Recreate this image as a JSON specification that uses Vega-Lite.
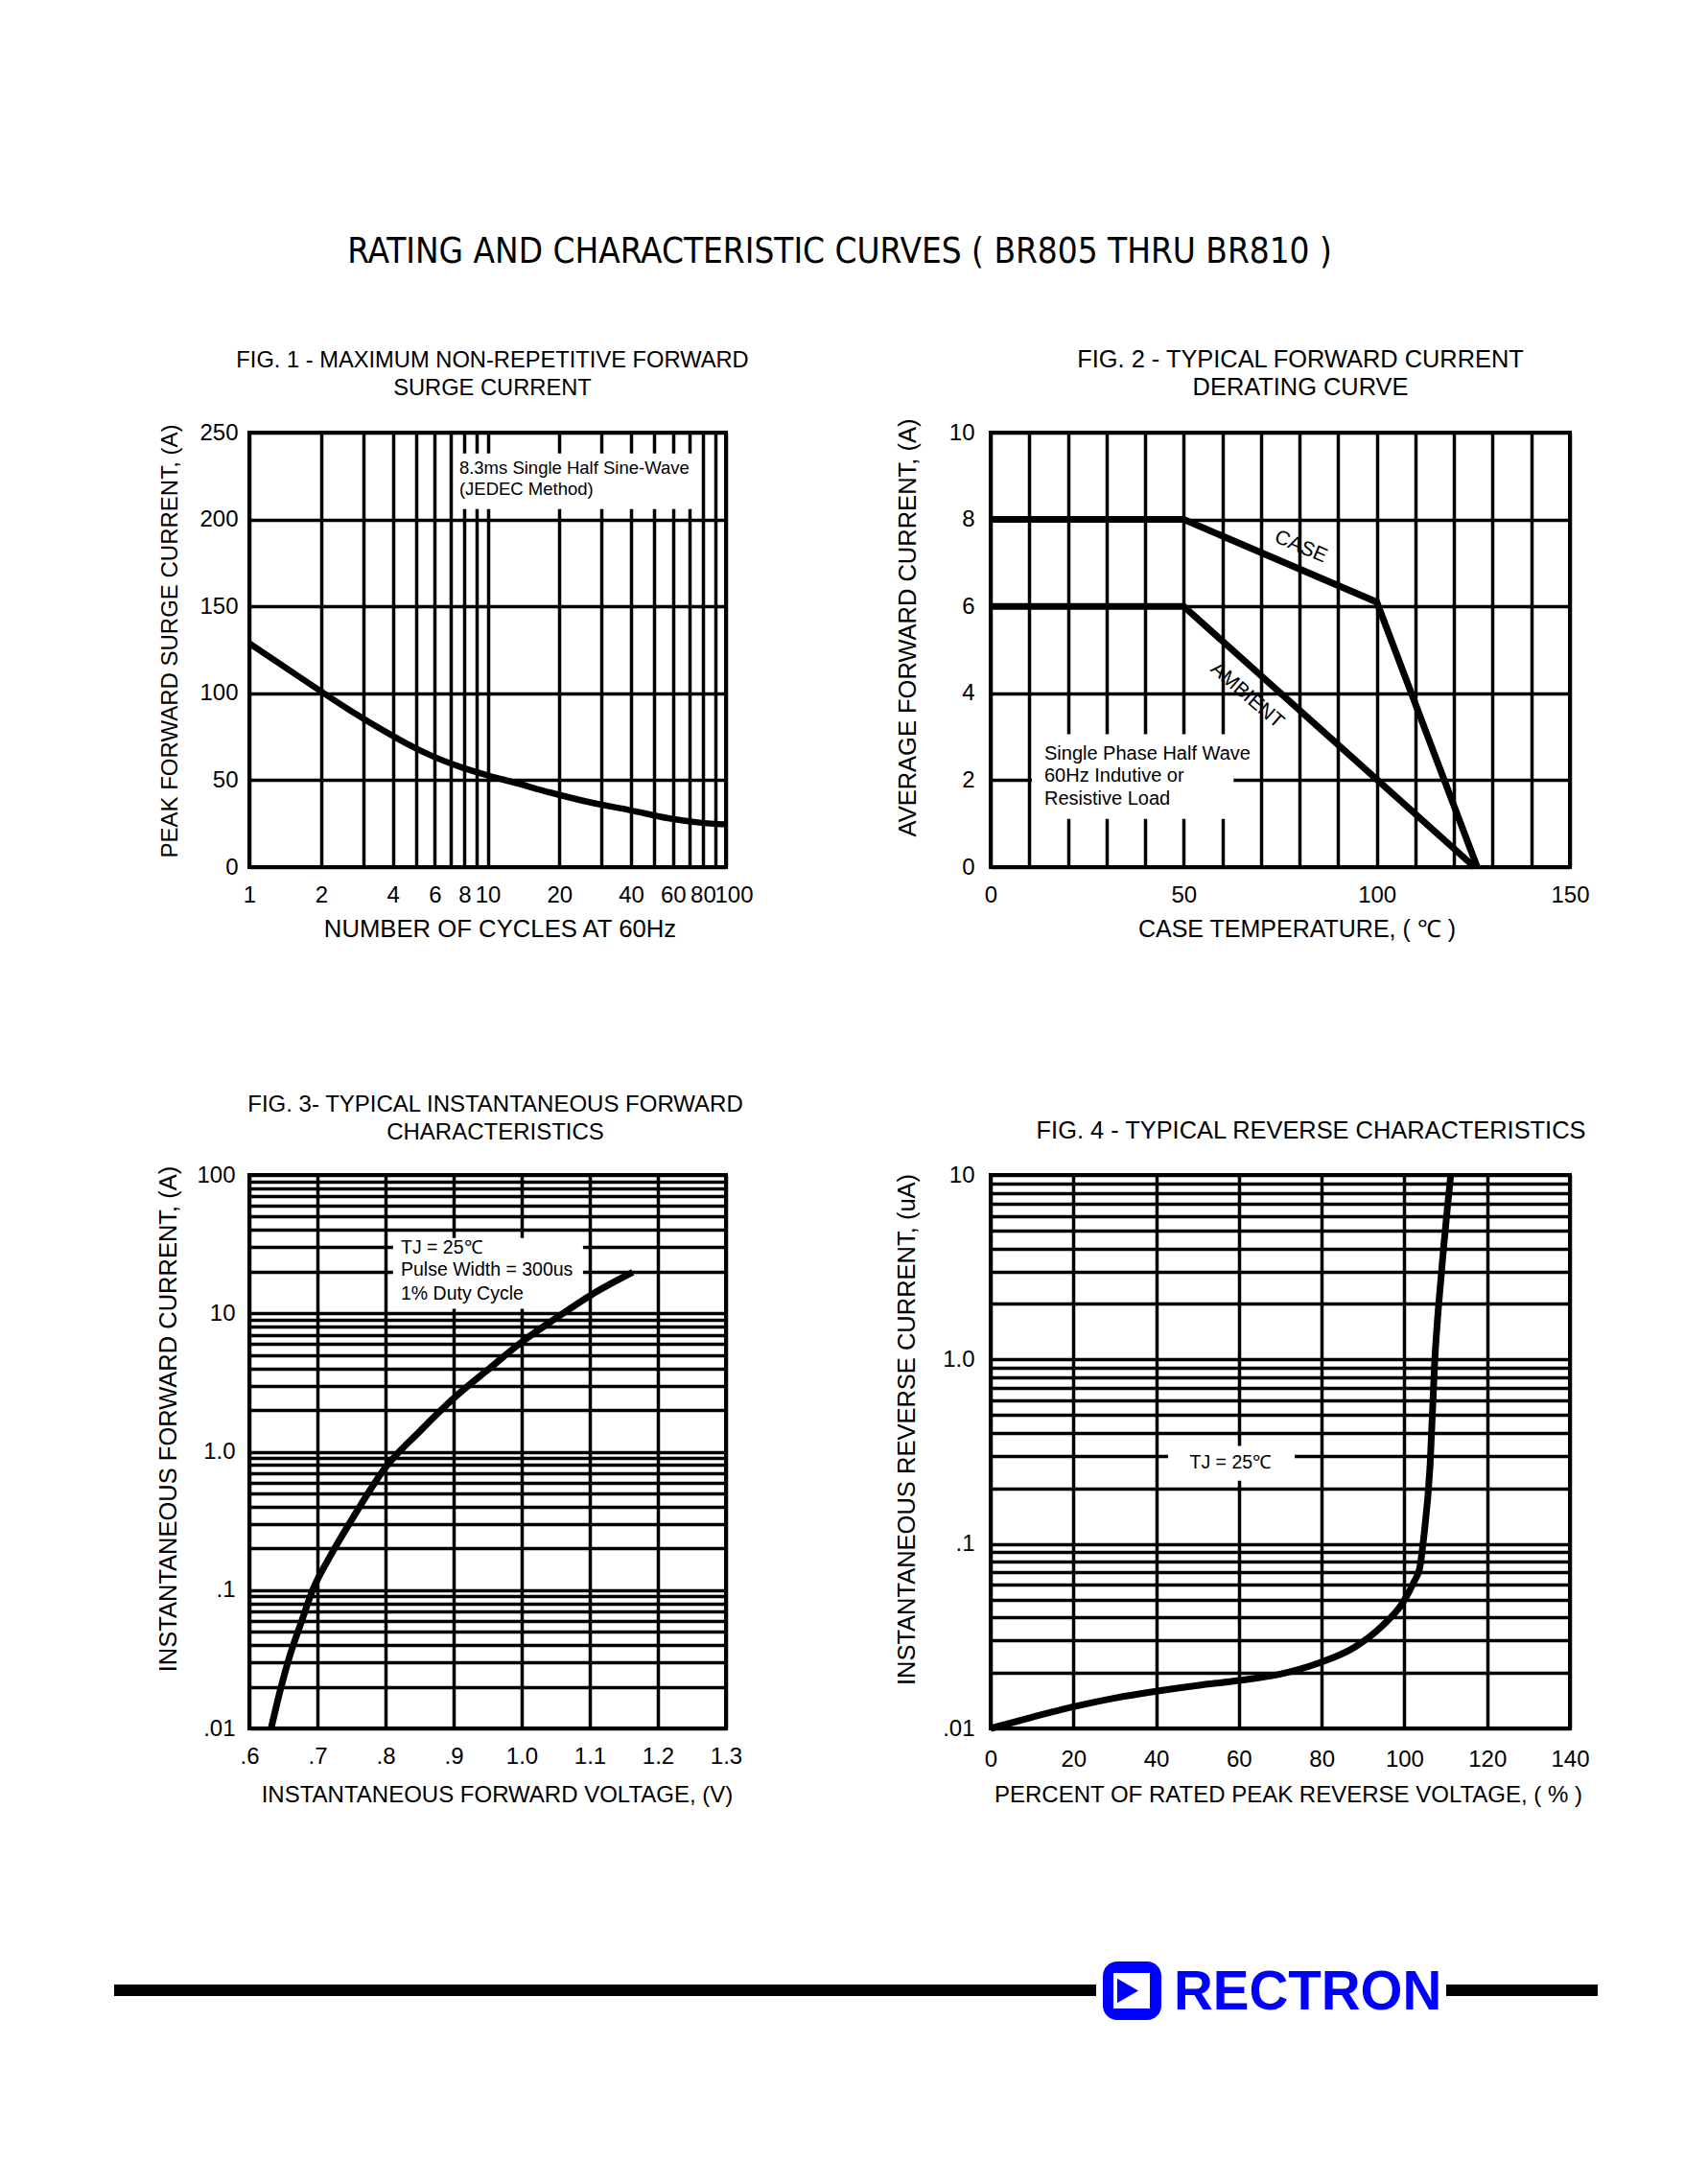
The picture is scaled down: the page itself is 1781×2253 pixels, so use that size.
{
  "$schema": "https://vega.github.io/schema/vega-lite/v6.json",
  "background": "white",
  "padding": {"left": 119, "top": 244, "right": 0, "bottom": 0},
  "title": {
    "text": "RATING AND CHARACTERISTIC CURVES ( BR805 THRU BR810 )",
    "font": "Liberation Sans Narrow, DejaVu Sans Condensed, Liberation Sans",
    "fontSize": 36.6, "fontWeight": "normal", "color": "black",
    "anchor": "middle", "frame": "bounds", "baseline": "alphabetic",
    "offset": 51, "dx": -17
  },
  "columns": 2,
  "spacing": {"row": 321, "column": 276},
  "bounds": "flush",
  "align": "each",
  "concat": [
    {
      "width": 497, "height": 453,
      "view": {"stroke": "black", "strokeWidth": 4},
      "title": {"text": ["FIG. 1 - MAXIMUM NON-REPETITIVE FORWARD", "SURGE CURRENT"], "dx": 5, "fontSize": 23.7, "offset": 22},
      "encoding": {
        "x": {"field": "x", "type": "quantitative",
          "scale": {"type": "log", "domain": [1, 100], "nice": false},
          "axis": {"title": "NUMBER OF CYCLES AT 60Hz",
            "values": [1,2,3,4,5,6,7,8,9,10,20,30,40,50,60,70,80,90,100],
            "labelExpr": "indexof([1,2,4,6,8,10,20,40,60,80,100], datum.value) >= 0 ? format(datum.value, 'd') : ''",
            "labelOffset": {"condition": {"test": "datum.value === 100", "value": 8}, "value": 0},
            "labelPadding": 17, "titlePadding": 11, "titleFontSize": 25.7, "titleX": 261}},
        "y": {"field": "y", "type": "quantitative",
          "scale": {"domain": [0, 250], "nice": false},
          "axis": {"title": "PEAK FORWARD SURGE CURRENT, (A)", "values": [0,50,100,150,200,250],
            "labelPadding": 12, "titlePadding": 18, "titleFontSize": 24, "titleY": 217}}
      },
      "layer": [
        {"data": {"values": [{"x": 7.3, "x2": 74, "y": 206, "y2": 238}]},
         "mark": {"type": "rect", "color": "white"},
         "encoding": {"x2": {"field": "x2"}, "y2": {"field": "y2"}}},
        {"data": {"values": [
          {"x": 1, "y": 128.7}, {"x": 1.79, "y": 105.5}, {"x": 2.63, "y": 90.4}, {"x": 3.88, "y": 76.5},
          {"x": 4.79, "y": 69.6}, {"x": 5.72, "y": 64.5}, {"x": 7.54, "y": 58}, {"x": 9.85, "y": 53},
          {"x": 12.9, "y": 48.7}, {"x": 18.3, "y": 42.9}, {"x": 27.2, "y": 37.1}, {"x": 39.4, "y": 32.8},
          {"x": 57.8, "y": 28}, {"x": 77.4, "y": 25.6}, {"x": 100, "y": 24.5}]},
         "mark": {"type": "line", "color": "black", "strokeWidth": 6.5, "interpolate": "monotone"},
         "encoding": {}},
        {"data": {"values": [
          {"x": 7.6, "y": 229.6, "text": "8.3ms Single Half Sine-Wave"},
          {"x": 7.6, "y": 217.4, "text": "(JEDEC Method)"}]},
         "mark": {"type": "text", "align": "left", "baseline": "middle", "fontSize": 18.5},
         "encoding": {"text": {"field": "text"}}}
      ]
    },
    {
      "width": 604, "height": 453,
      "view": {"stroke": "black", "strokeWidth": 4},
      "title": {"text": ["FIG. 2 - TYPICAL FORWARD CURRENT", "DERATING CURVE"], "dx": 21, "fontSize": 25.4, "offset": 15},
      "encoding": {
        "x": {"field": "x", "type": "quantitative",
          "scale": {"domain": [0, 150], "nice": false},
          "axis": {"title": "CASE TEMPERATURE, ( ℃ )",
            "values": [0,10,20,30,40,50,60,70,80,90,100,110,120,130,140,150],
            "labelExpr": "datum.value % 50 === 0 ? format(datum.value, 'd') : ''",
            "labelPadding": 17, "titlePadding": 11, "titleFontSize": 25, "titleX": 319}},
        "y": {"field": "y", "type": "quantitative",
          "scale": {"domain": [0, 10], "nice": false},
          "axis": {"title": "AVERAGE FORWARD  CURRENT, (A)", "values": [0,2,4,6,8,10],
            "labelPadding": 17, "titlePadding": 30, "titleFontSize": 25.5, "titleY": 203}}
      },
      "layer": [
        {"data": {"values": [{"x": 10.7, "x2": 62.9, "y": 1.11, "y2": 3.06}]},
         "mark": {"type": "rect", "color": "white"},
         "encoding": {"x2": {"field": "x2"}, "y2": {"field": "y2"}}},
        {"data": {"values": [
          {"s": "CASE", "x": 0, "y": 8}, {"s": "CASE", "x": 50, "y": 8},
          {"s": "CASE", "x": 100, "y": 6.1}, {"s": "CASE", "x": 126, "y": 0},
          {"s": "AMBIENT", "x": 0, "y": 6}, {"s": "AMBIENT", "x": 50, "y": 6},
          {"s": "AMBIENT", "x": 125.3, "y": 0}]},
         "mark": {"type": "line", "color": "black", "strokeWidth": 7},
         "encoding": {"detail": {"field": "s"}}},
        {"data": {"values": [
          {"x": 13.9, "y": 2.6, "text": "Single Phase Half Wave"},
          {"x": 13.9, "y": 2.1, "text": "60Hz Indutive or"},
          {"x": 13.9, "y": 1.57, "text": "Resistive Load"}]},
         "mark": {"type": "text", "align": "left", "baseline": "middle", "fontSize": 20},
         "encoding": {"text": {"field": "text"}}},
        {"data": {"values": [{"x": 80.3, "y": 7.37, "text": "CASE"}]},
         "mark": {"type": "text", "align": "center", "baseline": "middle", "fontSize": 21, "angle": 23},
         "encoding": {"text": {"field": "text"}}},
        {"data": {"values": [{"x": 66.4, "y": 3.95, "text": "AMBIENT"}]},
         "mark": {"type": "text", "align": "center", "baseline": "middle", "fontSize": 21, "angle": 41},
         "encoding": {"text": {"field": "text"}}}
      ]
    },
    {
      "width": 497, "height": 577,
      "view": {"stroke": "black", "strokeWidth": 4},
      "title": {"text": ["FIG. 3- TYPICAL INSTANTANEOUS FORWARD", "CHARACTERISTICS"], "dx": 8, "fontSize": 24, "offset": 20},
      "encoding": {
        "x": {"field": "x", "type": "quantitative",
          "scale": {"domain": [0.6, 1.3], "nice": false, "zero": false},
          "axis": {"title": "INSTANTANEOUS FORWARD VOLTAGE, (V)",
            "values": [0.6,0.7,0.8,0.9,1.0,1.1,1.2,1.3],
            "labelExpr": "datum.value < 0.95 ? slice(format(datum.value, '.1f'), 1) : format(datum.value, '.1f')",
            "labelPadding": 17, "titlePadding": 16, "titleFontSize": 24, "titleX": 258}},
        "y": {"field": "y", "type": "quantitative",
          "scale": {"type": "log", "domain": [0.01, 100], "nice": false},
          "axis": {"title": "INSTANTANEOUS FORWARD CURRENT, (A)",
            "values": [0.01,0.02,0.03,0.04,0.05,0.06,0.07,0.08,0.09,0.1,0.2,0.3,0.4,0.5,0.6,0.7,0.8,0.9,1,2,3,4,5,6,7,8,9,10,20,30,40,50,60,70,80,90,100],
            "labelExpr": "datum.value === 100 ? '100' : datum.value === 10 ? '10' : datum.value === 1 ? '1.0' : datum.value === 0.1 ? '.1' : datum.value === 0.01 ? '.01' : ''",
            "labelPadding": 15, "titlePadding": 16, "titleFontSize": 25.5, "titleY": 254}}
      },
      "layer": [
        {"data": {"values": [{"x": 0.811, "x2": 1.09, "y": 10.8, "y2": 35}]},
         "mark": {"type": "rect", "color": "white"},
         "encoding": {"x2": {"field": "x2"}, "y2": {"field": "y2"}}},
        {"data": {"values": [
          {"x": 0.632, "y": 0.01}, {"x": 0.645, "y": 0.0185}, {"x": 0.659, "y": 0.033},
          {"x": 0.676, "y": 0.058}, {"x": 0.693, "y": 0.1}, {"x": 0.72, "y": 0.18},
          {"x": 0.75, "y": 0.32}, {"x": 0.8, "y": 0.77}, {"x": 0.85, "y": 1.4},
          {"x": 0.9, "y": 2.43}, {"x": 0.95, "y": 3.9}, {"x": 1.0, "y": 6.2},
          {"x": 1.05, "y": 9.2}, {"x": 1.1, "y": 13.4}, {"x": 1.163, "y": 19.8}]},
         "mark": {"type": "line", "color": "black", "strokeWidth": 7, "interpolate": "monotone"},
         "encoding": {}},
        {"data": {"values": [
          {"x": 0.8225, "y": 29.7, "text": "TJ = 25℃"},
          {"x": 0.8225, "y": 20.6, "text": "Pulse Width = 300us"},
          {"x": 0.8225, "y": 13.8, "text": "1% Duty Cycle"}]},
         "mark": {"type": "text", "align": "left", "baseline": "middle", "fontSize": 19.5},
         "encoding": {"text": {"field": "text"}}}
      ]
    },
    {
      "width": 604, "height": 577,
      "view": {"stroke": "black", "strokeWidth": 4},
      "title": {"text": "FIG. 4 - TYPICAL REVERSE CHARACTERISTICS", "dx": 32, "fontSize": 25.4, "offset": 19},
      "encoding": {
        "x": {"field": "x", "type": "quantitative",
          "scale": {"domain": [0, 140], "nice": false},
          "axis": {"title": "PERCENT OF RATED PEAK REVERSE VOLTAGE, ( % )",
            "values": [0,20,40,60,80,100,120,140],
            "labelExpr": "format(datum.value, 'd')",
            "labelPadding": 20, "titlePadding": 13, "titleFontSize": 24, "titleX": 310}},
        "y": {"field": "y", "type": "quantitative",
          "scale": {"type": "log", "domain": [0.01, 10], "nice": false},
          "axis": {"title": "INSTANTANEOUS REVERSE CURRENT, (uA)",
            "values": [0.01,0.02,0.03,0.04,0.05,0.06,0.07,0.08,0.09,0.1,0.2,0.3,0.4,0.5,0.6,0.7,0.8,0.9,1,2,3,4,5,6,7,8,9,10],
            "labelExpr": "datum.value === 10 ? '10' : datum.value === 1 ? '1.0' : datum.value === 0.1 ? '.1' : datum.value === 0.01 ? '.01' : ''",
            "labelPadding": 17, "titlePadding": 24, "titleFontSize": 25.5, "titleY": 265}}
      },
      "layer": [
        {"data": {"values": [{"x": 42.9, "x2": 73.5, "y": 0.22, "y2": 0.34}]},
         "mark": {"type": "rect", "color": "white"},
         "encoding": {"x2": {"field": "x2"}, "y2": {"field": "y2"}}},
        {"data": {"values": [
          {"x": 0, "y": 0.01}, {"x": 10, "y": 0.0115}, {"x": 20, "y": 0.0131}, {"x": 30, "y": 0.0146},
          {"x": 40, "y": 0.0159}, {"x": 50, "y": 0.0171}, {"x": 60, "y": 0.0182}, {"x": 70, "y": 0.0197},
          {"x": 79, "y": 0.0225}, {"x": 88, "y": 0.0276}, {"x": 94.6, "y": 0.0359}, {"x": 99.6, "y": 0.048},
          {"x": 102.3, "y": 0.0622}, {"x": 103.7, "y": 0.074}, {"x": 104.6, "y": 0.105},
          {"x": 106.2, "y": 0.265}, {"x": 107.3, "y": 0.95}, {"x": 109, "y": 3.04}, {"x": 111.2, "y": 10}]},
         "mark": {"type": "line", "color": "black", "strokeWidth": 7, "interpolate": "monotone"},
         "encoding": {}},
        {"data": {"values": [{"x": 57.9, "y": 0.275, "text": "TJ = 25℃"}]},
         "mark": {"type": "text", "align": "center", "baseline": "middle", "fontSize": 19.5},
         "encoding": {"text": {"field": "text"}}}
      ]
    },
    {
      "width": 497, "height": 20,
      "view": {"stroke": null},
      "encoding": {
        "x": {"field": "x", "type": "quantitative", "scale": {"domain": [260, 757], "nice": false, "zero": false}, "axis": null},
        "y": {"field": "y", "type": "quantitative", "scale": {"domain": [2123, 2143], "nice": false, "zero": false, "reverse": true}, "axis": null}
      },
      "layer": [
        {"data": {"values": [{"x": 119, "x2": 1143, "y": 2069, "y2": 2081}, {"x": 1508, "x2": 1666, "y": 2069, "y2": 2081}]},
         "mark": {"type": "rect", "color": "black"},
         "encoding": {"x2": {"field": "x2"}, "y2": {"field": "y2"}}},
        {"data": {"values": [{"x": 1150, "x2": 1211, "y": 2045, "y2": 2106}]},
         "mark": {"type": "rect", "color": "#0000FF", "cornerRadius": 15},
         "encoding": {"x2": {"field": "x2"}, "y2": {"field": "y2"}}},
        {"data": {"values": [{"x": 1161, "x2": 1199, "y": 2057, "y2": 2094}]},
         "mark": {"type": "rect", "color": "white"},
         "encoding": {"x2": {"field": "x2"}, "y2": {"field": "y2"}}},
        {"data": {"values": [{"x": 1176, "y": 2075.5}]},
         "mark": {"type": "point", "shape": "triangle-right", "filled": true, "color": "#0000FF", "size": 650, "opacity": 1},
         "encoding": {}},
        {"data": {"values": [{"x": 1224, "y": 2095, "text": "RECTRON"}]},
         "mark": {"type": "text", "align": "left", "baseline": "alphabetic", "fontSize": 56.5, "fontWeight": "bold", "color": "#0000FF"},
         "encoding": {"text": {"field": "text"}}}
      ]
    }
  ],
  "config": {
    "font": "Liberation Sans",
    "view": {"stroke": "black", "strokeWidth": 4},
    "axis": {
      "grid": true, "gridColor": "black", "gridWidth": 3.5, "gridOpacity": 1,
      "domain": false, "ticks": false, "tickSize": 0,
      "labelFont": "Liberation Sans", "labelFontSize": 24, "labelColor": "black",
      "labelFlush": false, "labelOverlap": false, "labelBound": false,
      "titleFont": "Liberation Sans", "titleFontSize": 25, "titleFontWeight": "normal", "titleColor": "black"
    },
    "title": {
      "font": "Liberation Sans", "fontSize": 23, "fontWeight": "normal", "color": "black",
      "anchor": "middle", "frame": "group", "baseline": "bottom", "lineHeight": 29, "offset": 16
    },
    "text": {"font": "Liberation Sans", "color": "black"}
  }
}
